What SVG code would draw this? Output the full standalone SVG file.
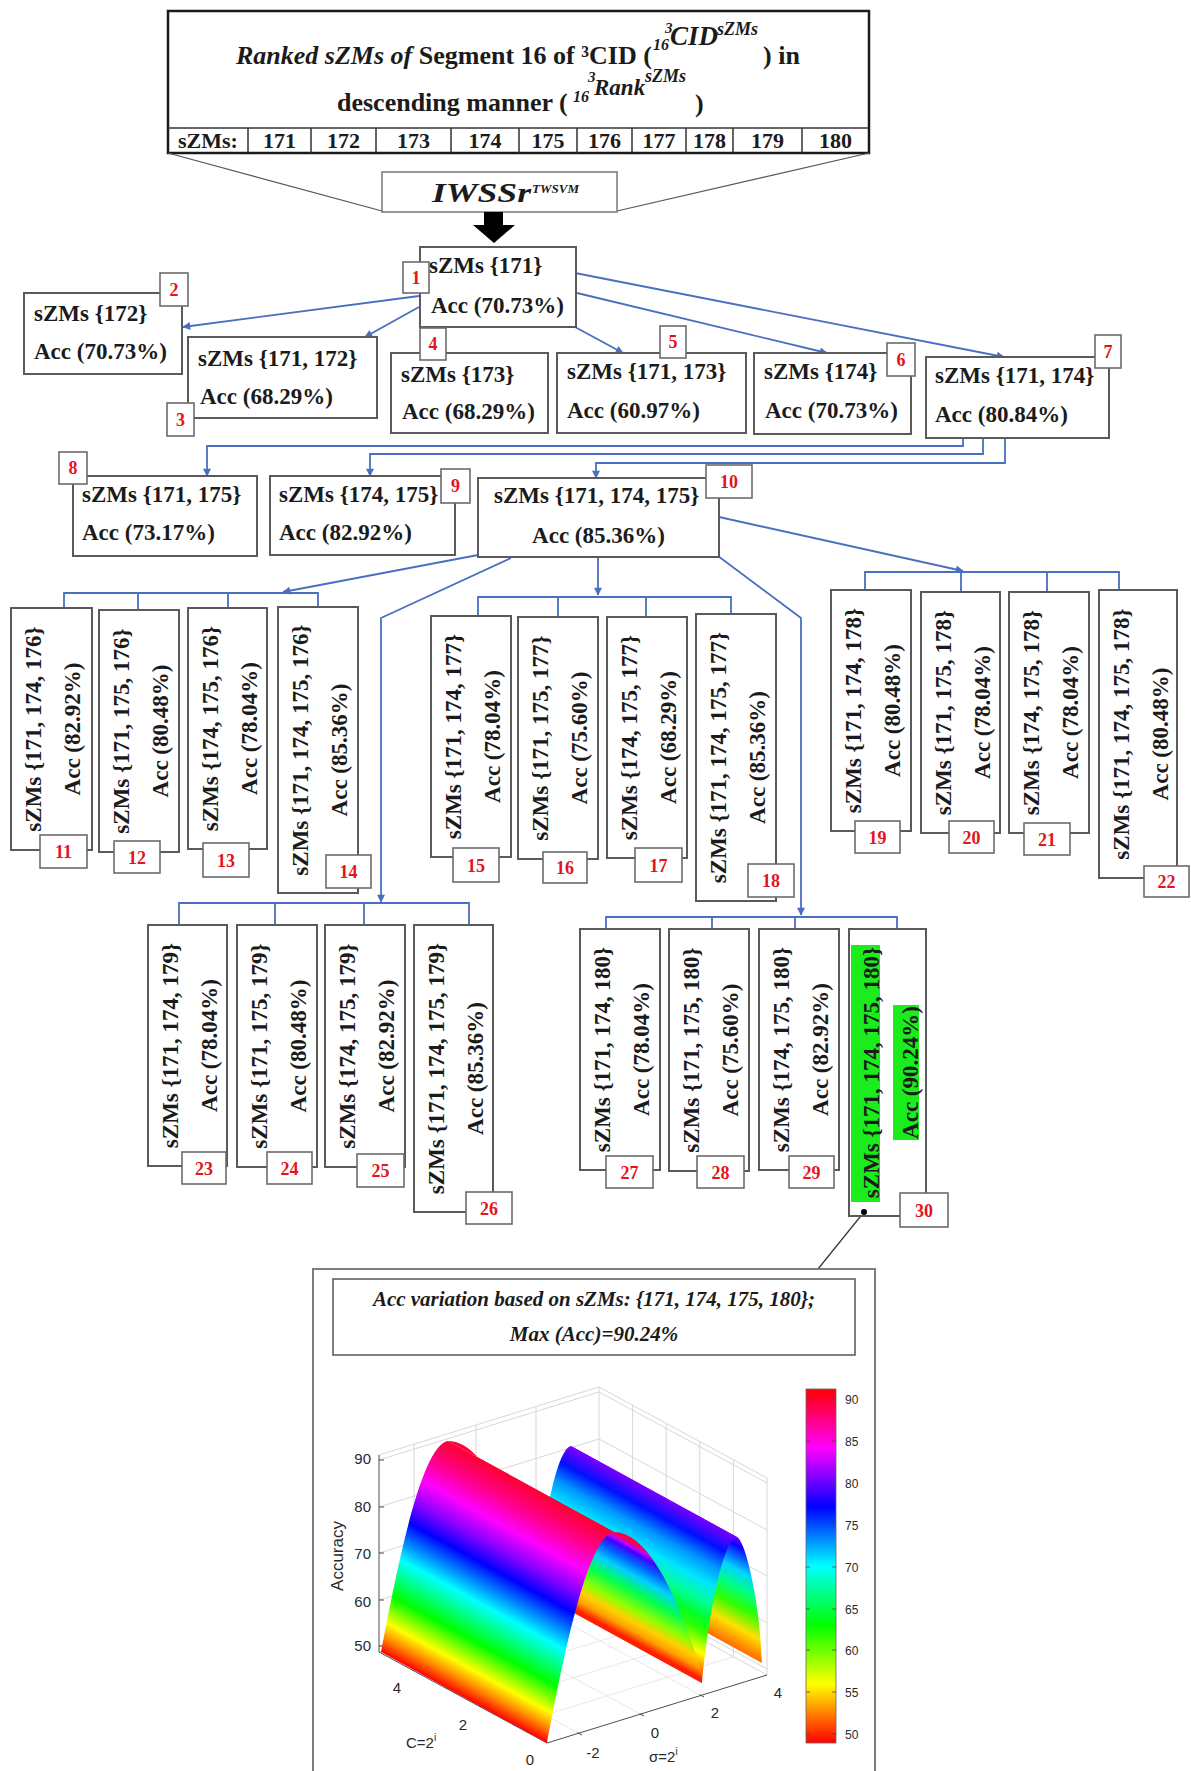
<svg xmlns="http://www.w3.org/2000/svg" width="1191" height="1771" viewBox="0 0 1191 1771">
<defs>
<style>
.nb{fill:#fff;stroke:#5a5a5a;stroke-width:2}
.lb{fill:#fff;stroke:#6b6b6b;stroke-width:1.6}
.t{font-family:"Liberation Serif","Times New Roman",serif;font-weight:bold;font-size:23px;fill:#1b1b1b}
.rw{font-size:22px;text-anchor:middle}
.m{text-anchor:middle}
.ln{font-family:"Liberation Serif","Times New Roman",serif;font-weight:bold;font-size:18px;fill:#e3141b;text-anchor:middle}
.c{fill:none;stroke:#4a6fc0;stroke-width:1.8}
.ca{fill:none;stroke:#4a6fc0;stroke-width:1.8;marker-end:url(#ah)}
.gr{fill:none;stroke:#d2d2d2;stroke-width:0.9}
.fg{fill:none;stroke:#e2e2e2;stroke-width:0.8}
.ax{fill:none;stroke:#4d4d4d;stroke-width:1}
.tk{font-family:"Liberation Sans",Arial,sans-serif;font-size:15px;fill:#2a2a2a}
.cb{font-family:"Liberation Sans",Arial,sans-serif;font-size:12px;fill:#2a2a2a}
.pt{font-family:"Liberation Serif","Times New Roman",serif;font-weight:bold;font-style:italic;font-size:21px;fill:#1b1b1b;text-anchor:middle}
.hd{font-family:"Liberation Serif","Times New Roman",serif;font-weight:bold;font-size:26px;fill:#1b1b1b}
.it{font-style:italic}
</style>
<marker id="ah" viewBox="0 0 10 10" refX="9" refY="5" markerUnits="userSpaceOnUse" markerWidth="9" markerHeight="8" orient="auto"><path d="M0,0 L10,5 L0,10 z" fill="#4a6fc0"/></marker>
<linearGradient id="g1" gradientUnits="userSpaceOnUse" x1="547" y1="1743" x2="651.4" y2="1552.5">
<stop offset="0" stop-color="#ff0000"/><stop offset="0.06" stop-color="#ff8000"/><stop offset="0.13" stop-color="#ffff00"/><stop offset="0.25" stop-color="#00ff00"/><stop offset="0.416" stop-color="#00ffff"/><stop offset="0.583" stop-color="#0000ff"/><stop offset="0.67" stop-color="#8000ff"/><stop offset="0.78" stop-color="#ff00ff"/><stop offset="0.9" stop-color="#ff0080"/><stop offset="1" stop-color="#ff0030"/>
</linearGradient>
<linearGradient id="g2" gradientUnits="userSpaceOnUse" x1="614" y1="1532" x2="572.4" y2="1608">
<stop offset="0" stop-color="#ff0040"/><stop offset="0.05" stop-color="#c000ff"/><stop offset="0.095" stop-color="#4000ff"/><stop offset="0.198" stop-color="#0060ff"/><stop offset="0.33" stop-color="#00d0ff"/><stop offset="0.49" stop-color="#00ff50"/><stop offset="0.68" stop-color="#90ff00"/><stop offset="0.8" stop-color="#ffd000"/><stop offset="0.9" stop-color="#ffa000"/><stop offset="1" stop-color="#ff2000"/>
</linearGradient>
<linearGradient id="g3" gradientUnits="userSpaceOnUse" x1="702" y1="1683" x2="771.1" y2="1555.5">
<stop offset="0" stop-color="#ff1500"/><stop offset="0.1" stop-color="#ff9500"/><stop offset="0.18" stop-color="#ffff00"/><stop offset="0.316" stop-color="#30ff00"/><stop offset="0.4" stop-color="#00ff2a"/><stop offset="0.5" stop-color="#00ff95"/><stop offset="0.625" stop-color="#00e5ff"/><stop offset="0.75" stop-color="#0095ff"/><stop offset="0.872" stop-color="#0010ff"/><stop offset="1" stop-color="#7700ff"/>
</linearGradient>
<linearGradient id="g4" gradientUnits="userSpaceOnUse" x1="737" y1="1537" x2="689.9" y2="1624">
<stop offset="0" stop-color="#7700ff"/><stop offset="0.073" stop-color="#0b00ff"/><stop offset="0.288" stop-color="#00d5ff"/><stop offset="0.45" stop-color="#00ff80"/><stop offset="0.608" stop-color="#2eff00"/><stop offset="0.8" stop-color="#ffe000"/><stop offset="1" stop-color="#ff6a00"/>
</linearGradient>
<linearGradient id="gcb" x1="0" y1="1" x2="0" y2="0">
<stop offset="0" stop-color="#ff0000"/><stop offset="0.1667" stop-color="#ffff00"/><stop offset="0.3333" stop-color="#00ff00"/><stop offset="0.5" stop-color="#00ffff"/><stop offset="0.6667" stop-color="#0000ff"/><stop offset="0.8333" stop-color="#ff00ff"/><stop offset="1" stop-color="#ff0000"/>
</linearGradient>
</defs>
<rect x="0" y="0" width="1191" height="1771" fill="#fff"/>

<g id="header">
<rect x="168" y="11" width="701" height="142" fill="#fff" stroke="#1a1a1a" stroke-width="2.5"/>
<line x1="168" y1="128" x2="869" y2="128" stroke="#333" stroke-width="1.5"/>
<path d="M248,128V153M311,128V153M376,128V153M451,128V153M519,128V153M577,128V153M632,128V153M686,128V153M733,128V153M802,128V153" stroke="#333" stroke-width="1.5" fill="none"/>
<text class="hd" y="64"><tspan x="236" class="it">Ranked sZMs of</tspan><tspan> Segment 16 of ³CID (</tspan></text>
<text class="hd it" style="font-size:15px" x="665" y="33">3</text>
<text class="hd it" style="font-size:16px" x="653" y="50">16</text>
<text class="hd it" style="font-size:27px" x="670" y="45">CID</text>
<text class="hd it" style="font-size:18px" x="717" y="35">sZMs</text>
<text class="hd" x="763" y="64">) in</text>
<text class="hd" x="337" y="111">descending manner (</text>
<text class="hd it" style="font-size:15px" x="588" y="82">3</text>
<text class="hd it" style="font-size:16px" x="573" y="102">16</text>
<text class="hd it" style="font-size:23px" x="594" y="95">Rank</text>
<text class="hd it" style="font-size:18px" x="645" y="82">sZMs</text>
<text class="hd" x="695" y="112">)</text>
<text class="t rw" x="208" y="148">sZMs:</text>
<text class="t rw" x="279.5" y="148">171</text>
<text class="t rw" x="343.5" y="148">172</text>
<text class="t rw" x="413.5" y="148">173</text>
<text class="t rw" x="485" y="148">174</text>
<text class="t rw" x="548" y="148">175</text>
<text class="t rw" x="604.5" y="148">176</text>
<text class="t rw" x="659" y="148">177</text>
<text class="t rw" x="709.5" y="148">178</text>
<text class="t rw" x="767.5" y="148">179</text>
<text class="t rw" x="835.5" y="148">180</text>
</g>

<g id="iwssr">
<line x1="168" y1="153" x2="382" y2="211" stroke="#555" stroke-width="1.2"/>
<line x1="869" y1="153" x2="617" y2="211" stroke="#555" stroke-width="1.2"/>
<rect x="382" y="172" width="235" height="40" fill="#fff" stroke="#777" stroke-width="1.5"/>
<text class="hd it" style="font-size:27px" x="432" y="202" textLength="99" lengthAdjust="spacingAndGlyphs">IWSSr</text>
<text class="hd it" style="font-size:13px" x="532" y="193">TWSVM</text>
<path d="M484,212 H503 V225 H515 L494,243 L473,225 H484 Z" fill="#000"/>
</g>

<g id="connectors">
<path class="ca" d="M419,296 L183,327"/>
<path class="ca" d="M419,307 L365,337"/>
<path class="ca" d="M575,327 L623,353"/>
<path class="ca" d="M577,293 L827,353"/>
<path class="ca" d="M575,273 L1004,357"/>
<path class="ca" d="M963,438 V446 H207 V476"/>
<path class="ca" d="M983,438 V454 H370 V476"/>
<path class="ca" d="M1005,438 V463 H596 V478"/>
<path class="ca" d="M478,555 L283,592"/>
<path class="c" d="M64,608 V593 H318 V607 M138,593 V610 M228,593 V608"/>
<path class="ca" d="M511,558 L381,618 V902"/>
<path class="c" d="M179,925 V903 H469 V925 M275,903 V925 M364,903 V925"/>
<path class="ca" d="M598,557 V595"/>
<path class="c" d="M478,616 V597 H731 V614 M558,597 V617 M646,597 V617"/>
<path class="ca" d="M718,556 L801,618 V915"/>
<path class="c" d="M606,929 V917 H897 V929 M712,917 V929 M795,917 V929"/>
<path class="ca" d="M719,517 L963,571"/>
<path class="c" d="M865,590 V572 H1119 V590 M961,572 V592 M1047,572 V592"/>
<line x1="864" y1="1212" x2="818" y2="1269" stroke="#333" stroke-width="1.2"/>
</g>

<g id="node1"><rect class="nb" x="420" y="247" width="156" height="80"/><text class="t" x="429" y="273">sZMs {171}</text><text class="t" x="431" y="313">Acc (70.73%)</text><rect class="lb" x="403" y="262" width="26" height="31"/><text class="ln" x="416" y="284">1</text></g>
<g id="node2"><rect class="nb" x="24" y="293" width="158" height="81"/><text class="t" x="34" y="321">sZMs {172}</text><text class="t" x="34" y="359">Acc (70.73%)</text><rect class="lb" x="160" y="273" width="28" height="33"/><text class="ln" x="174" y="296">2</text></g>
<g id="node3"><rect class="nb" x="188" y="337" width="189" height="81"/><text class="t" x="198" y="366">sZMs {171, 172}</text><text class="t" x="200" y="404">Acc (68.29%)</text><rect class="lb" x="167" y="403" width="27" height="33"/><text class="ln" x="180.5" y="426">3</text></g>
<g id="node4"><rect class="nb" x="391" y="353" width="157" height="80"/><text class="t" x="401" y="382">sZMs {173}</text><text class="t" x="402" y="419">Acc (68.29%)</text><rect class="lb" x="420" y="328" width="26" height="32"/><text class="ln" x="433" y="350">4</text></g>
<g id="node5"><rect class="nb" x="557" y="353" width="189" height="80"/><text class="t" x="567" y="379">sZMs {171, 173}</text><text class="t" x="567" y="418">Acc (60.97%)</text><rect class="lb" x="660" y="326" width="26" height="32"/><text class="ln" x="673" y="348">5</text></g>
<g id="node6"><rect class="nb" x="754" y="353" width="157" height="81"/><text class="t" x="764" y="379">sZMs {174}</text><text class="t" x="765" y="418">Acc (70.73%)</text><rect class="lb" x="887" y="343" width="28" height="33"/><text class="ln" x="901" y="366">6</text></g>
<g id="node7"><rect class="nb" x="926" y="357" width="183" height="81"/><text class="t" x="935" y="383">sZMs {171, 174}</text><text class="t" x="935" y="422">Acc (80.84%)</text><rect class="lb" x="1095" y="335" width="26" height="33"/><text class="ln" x="1108" y="358">7</text></g>
<g id="node8"><rect class="nb" x="73" y="476" width="184" height="80"/><text class="t" x="82" y="502">sZMs {171, 175}</text><text class="t" x="82" y="540">Acc (73.17%)</text><rect class="lb" x="59" y="452" width="28" height="32"/><text class="ln" x="73" y="474">8</text></g>
<g id="node9"><rect class="nb" x="270" y="476" width="185" height="79"/><text class="t" x="279" y="502">sZMs {174, 175}</text><text class="t" x="279" y="540">Acc (82.92%)</text><rect class="lb" x="441" y="469" width="29" height="34"/><text class="ln" x="455.5" y="492">9</text></g>
<g id="node10"><rect class="nb" x="478" y="478" width="241" height="79"/><text class="t" x="494" y="503">sZMs {171, 174, 175}</text><text class="t m" x="598.5" y="543">Acc (85.36%)</text><rect class="lb" x="706" y="465" width="46" height="33"/><text class="ln" x="729" y="488">10</text></g>

<g id="node11"><rect class="nb" x="11" y="608" width="81" height="242"/><text class="t m" transform="translate(41,729) rotate(-90)">sZMs {171, 174, 176}</text><text class="t m" transform="translate(80,729) rotate(-90)">Acc (82.92%)</text><rect class="lb" x="40" y="835" width="47" height="33"/><text class="ln" x="63.5" y="858">11</text></g>
<g id="node12"><rect class="nb" x="99" y="610" width="80" height="242"/><text class="t m" transform="translate(129,731) rotate(-90)">sZMs {171, 175, 176}</text><text class="t m" transform="translate(168,731) rotate(-90)">Acc (80.48%)</text><rect class="lb" x="114" y="841" width="46" height="32"/><text class="ln" x="137" y="863.5">12</text></g>
<g id="node13"><rect class="nb" x="188" y="608" width="79" height="241"/><text class="t m" transform="translate(218,728.5) rotate(-90)">sZMs {174, 175, 176}</text><text class="t m" transform="translate(257,728.5) rotate(-90)">Acc (78.04%)</text><rect class="lb" x="203" y="843" width="46" height="34"/><text class="ln" x="226" y="866.5">13</text></g>
<g id="node14"><rect class="nb" x="278" y="607" width="80" height="286"/><text class="t m" transform="translate(308,750) rotate(-90)">sZMs {171, 174, 175, 176}</text><text class="t m" transform="translate(347,750) rotate(-90)">Acc (85.36%)</text><rect class="lb" x="326" y="855" width="45" height="33"/><text class="ln" x="348.5" y="878">14</text></g>
<g id="node15"><rect class="nb" x="431" y="616" width="80" height="241"/><text class="t m" transform="translate(461,736.5) rotate(-90)">sZMs {171, 174, 177}</text><text class="t m" transform="translate(500,736.5) rotate(-90)">Acc (78.04%)</text><rect class="lb" x="453" y="848" width="46" height="34"/><text class="ln" x="476" y="871.5">15</text></g>
<g id="node16"><rect class="nb" x="518" y="617" width="80" height="242"/><text class="t m" transform="translate(548,738) rotate(-90)">sZMs {171, 175, 177}</text><text class="t m" transform="translate(587,738) rotate(-90)">Acc (75.60%)</text><rect class="lb" x="543" y="852" width="44" height="31"/><text class="ln" x="565" y="874">16</text></g>
<g id="node17"><rect class="nb" x="607" y="617" width="80" height="241"/><text class="t m" transform="translate(637,737.5) rotate(-90)">sZMs {174, 175, 177}</text><text class="t m" transform="translate(676,737.5) rotate(-90)">Acc (68.29%)</text><rect class="lb" x="635" y="848" width="47" height="34"/><text class="ln" x="658.5" y="871.5">17</text></g>
<g id="node18"><rect class="nb" x="696" y="614" width="80" height="287"/><text class="t m" transform="translate(726,757.5) rotate(-90)">sZMs {171, 174, 175, 177}</text><text class="t m" transform="translate(765,757.5) rotate(-90)">Acc (85.36%)</text><rect class="lb" x="748" y="864" width="46" height="33"/><text class="ln" x="771" y="887">18</text></g>
<g id="node19"><rect class="nb" x="831" y="590" width="80" height="241"/><text class="t m" transform="translate(861,710.5) rotate(-90)">sZMs {171, 174, 178}</text><text class="t m" transform="translate(900,710.5) rotate(-90)">Acc (80.48%)</text><rect class="lb" x="855" y="821" width="45" height="32"/><text class="ln" x="877.5" y="843.5">19</text></g>
<g id="node20"><rect class="nb" x="921" y="592" width="79" height="241"/><text class="t m" transform="translate(951,712.5) rotate(-90)">sZMs {171, 175, 178}</text><text class="t m" transform="translate(990,712.5) rotate(-90)">Acc (78.04%)</text><rect class="lb" x="949" y="821" width="45" height="32"/><text class="ln" x="971.5" y="843.5">20</text></g>
<g id="node21"><rect class="nb" x="1009" y="592" width="80" height="241"/><text class="t m" transform="translate(1039,712.5) rotate(-90)">sZMs {174, 175, 178}</text><text class="t m" transform="translate(1078,712.5) rotate(-90)">Acc (78.04%)</text><rect class="lb" x="1024" y="823" width="46" height="32"/><text class="ln" x="1047" y="845.5">21</text></g>
<g id="node22"><rect class="nb" x="1099" y="590" width="78" height="288"/><text class="t m" transform="translate(1129,734) rotate(-90)">sZMs {171, 174, 175, 178}</text><text class="t m" transform="translate(1168,734) rotate(-90)">Acc (80.48%)</text><rect class="lb" x="1144" y="866" width="45" height="31"/><text class="ln" x="1166.5" y="888">22</text></g>
<g id="node23"><rect class="nb" x="148" y="925" width="79" height="241"/><text class="t m" transform="translate(178,1045.5) rotate(-90)">sZMs {171, 174, 179}</text><text class="t m" transform="translate(217,1045.5) rotate(-90)">Acc (78.04%)</text><rect class="lb" x="182" y="1152" width="44" height="32"/><text class="ln" x="204" y="1174.5">23</text></g>
<g id="node24"><rect class="nb" x="237" y="925" width="80" height="242"/><text class="t m" transform="translate(267,1046) rotate(-90)">sZMs {171, 175, 179}</text><text class="t m" transform="translate(306,1046) rotate(-90)">Acc (80.48%)</text><rect class="lb" x="267" y="1152" width="45" height="32"/><text class="ln" x="289.5" y="1174.5">24</text></g>
<g id="node25"><rect class="nb" x="325" y="925" width="80" height="242"/><text class="t m" transform="translate(355,1046) rotate(-90)">sZMs {174, 175, 179}</text><text class="t m" transform="translate(394,1046) rotate(-90)">Acc (82.92%)</text><rect class="lb" x="357" y="1154" width="47" height="33"/><text class="ln" x="380.5" y="1177">25</text></g>
<g id="node26"><rect class="nb" x="414" y="925" width="79" height="287"/><text class="t m" transform="translate(444,1068.5) rotate(-90)">sZMs {171, 174, 175, 179}</text><text class="t m" transform="translate(483,1068.5) rotate(-90)">Acc (85.36%)</text><rect class="lb" x="466" y="1192" width="46" height="32"/><text class="ln" x="489" y="1214.5">26</text></g>
<g id="node27"><rect class="nb" x="580" y="929" width="80" height="241"/><text class="t m" transform="translate(610,1049.5) rotate(-90)">sZMs {171, 174, 180}</text><text class="t m" transform="translate(649,1049.5) rotate(-90)">Acc (78.04%)</text><rect class="lb" x="606" y="1156" width="47" height="32"/><text class="ln" x="629.5" y="1178.5">27</text></g>
<g id="node28"><rect class="nb" x="669" y="929" width="80" height="242"/><text class="t m" transform="translate(699,1050) rotate(-90)">sZMs {171, 175, 180}</text><text class="t m" transform="translate(738,1050) rotate(-90)">Acc (75.60%)</text><rect class="lb" x="697" y="1156" width="47" height="32"/><text class="ln" x="720.5" y="1178.5">28</text></g>
<g id="node29"><rect class="nb" x="759" y="929" width="80" height="241"/><text class="t m" transform="translate(789,1049.5) rotate(-90)">sZMs {174, 175, 180}</text><text class="t m" transform="translate(828,1049.5) rotate(-90)">Acc (82.92%)</text><rect class="lb" x="789" y="1156" width="45" height="32"/><text class="ln" x="811.5" y="1178.5">29</text></g>
<g id="node30"><rect class="nb" x="849" y="929" width="77" height="287"/><rect x="851" y="945" width="29" height="257" fill="#1bec1b"/><rect x="893" y="1005" width="26" height="135" fill="#1bec1b"/><text class="t m" transform="translate(879,1072.5) rotate(-90)">sZMs {171, 174, 175, 180}</text><text class="t m" transform="translate(918,1072.5) rotate(-90)">Acc (90.24%)</text><rect class="lb" x="900" y="1193" width="48" height="34"/><text class="ln" x="924" y="1216.5">30</text><circle cx="864" cy="1212" r="3" fill="#000"/></g>

<g id="plot">
<rect x="313" y="1269" width="562" height="540" fill="#fff" stroke="#7d7d7d" stroke-width="2"/>
<rect x="333" y="1279" width="522" height="76" fill="#fff" stroke="#555" stroke-width="1.5"/>
<text class="pt" x="594" y="1306">Acc variation based on sZMs: {171, 174, 175, 180};</text>
<text class="pt" x="594" y="1341">Max (Acc)=90.24%</text>
<path class="fg" d="M582,1735 L414,1644 M644,1716 L476,1625 M704,1697 L536,1606 M513.4,1724.8 L733.4,1656.8 M479.8,1706.6 L699.8,1638.6 M446.2,1688.4 L666.2,1620.4 M412.6,1670.2 L632.6,1602.2"/>
<path class="gr" d="M379,1455 L599,1387 L767,1478 M599,1387 V1584 M379,1652 L599,1584 L767,1675 M767,1478 V1675 M379,1646 L599,1578 L767,1669 M379,1600 L599,1532 L767,1623 M379,1553 L599,1485 L767,1576 M379,1507 L599,1439 L767,1530 M379,1460 L599,1392 L767,1483 M414,1641 V1444 M476,1622 V1425 M536,1603.5 V1406.5 M733.4,1656.8 V1459.8 M699.8,1638.6 V1441.6 M666.2,1620.4 V1423.4 M632.6,1602.2 V1405.2"/>
<path class="ax" d="M379,1455 V1652 L547,1743 L767,1675 M379,1460 h5 M379,1507 h5 M379,1553 h5 M379,1600 h5 M379,1646 h5 M582,1735 l-4.4,-2.4 M644,1716 l-4.4,-2.4 M704,1697 l-4.4,-2.4 M412.6,1670.2 l4.8,-1.5 M446.2,1688.4 l4.8,-1.5 M479.8,1706.6 l4.8,-1.5 M513.4,1724.8 l4.8,-1.5"/>
<path d="M737,1537 C745,1540 760,1600 762,1663 L596,1572 C594,1509 579,1449 571,1446 Z" fill="url(#g4)"/>
<path d="M702,1683 C708,1620 722,1540 737,1537 L571,1446 C556,1449 542,1529 536,1592 Z" fill="url(#g3)"/>
<path d="M614,1532 C643.3,1532 672.7,1579 702,1673 L702,1683 L536,1592 L536,1582 C506.7,1488 477.3,1441 448,1441 Z" fill="url(#g2)"/>
<path d="M547,1743 C561,1671 586,1536 614,1532 L448,1441 C420,1445 395,1580 381,1652 Z" fill="url(#g1)"/>
<text class="tk" text-anchor="end" x="371" y="1464">90</text>
<text class="tk" text-anchor="end" x="371" y="1512">80</text>
<text class="tk" text-anchor="end" x="371" y="1559">70</text>
<text class="tk" text-anchor="end" x="371" y="1607">60</text>
<text class="tk" text-anchor="end" x="371" y="1651">50</text>
<text class="tk" style="font-size:17px" text-anchor="middle" transform="translate(343,1556) rotate(-90)">Accuracy</text>
<text class="tk" text-anchor="middle" x="397" y="1693">4</text>
<text class="tk" text-anchor="middle" x="463" y="1730">2</text>
<text class="tk" text-anchor="middle" x="530" y="1765">0</text>
<text class="tk" x="406" y="1748">C=2<tspan dy="-7" style="font-size:10px">i</tspan></text>
<text class="tk" text-anchor="middle" x="593" y="1758">-2</text>
<text class="tk" text-anchor="middle" x="655" y="1738">0</text>
<text class="tk" text-anchor="middle" x="715" y="1718">2</text>
<text class="tk" text-anchor="middle" x="778" y="1698">4</text>
<text class="tk" x="649" y="1762">σ=2<tspan dy="-7" style="font-size:10px">i</tspan></text>
<rect x="806" y="1389" width="30" height="354" fill="url(#gcb)" stroke="#666" stroke-width="0.8"/>
<path d="M832,1399h4M832,1441h4M832,1483h4M832,1525h4M832,1567h4M832,1609h4M832,1650h4M832,1692h4M832,1734h4M806,1399h4M806,1441h4M806,1483h4M806,1525h4M806,1567h4M806,1609h4M806,1650h4M806,1692h4M806,1734h4" stroke="#444" stroke-width="0.8" fill="none"/>
<text class="cb" x="845" y="1403.5">90</text>
<text class="cb" x="845" y="1445.5">85</text>
<text class="cb" x="845" y="1487.5">80</text>
<text class="cb" x="845" y="1529.5">75</text>
<text class="cb" x="845" y="1571.5">70</text>
<text class="cb" x="845" y="1613.5">65</text>
<text class="cb" x="845" y="1654.5">60</text>
<text class="cb" x="845" y="1696.5">55</text>
<text class="cb" x="845" y="1738.5">50</text>
</g>
</svg>
